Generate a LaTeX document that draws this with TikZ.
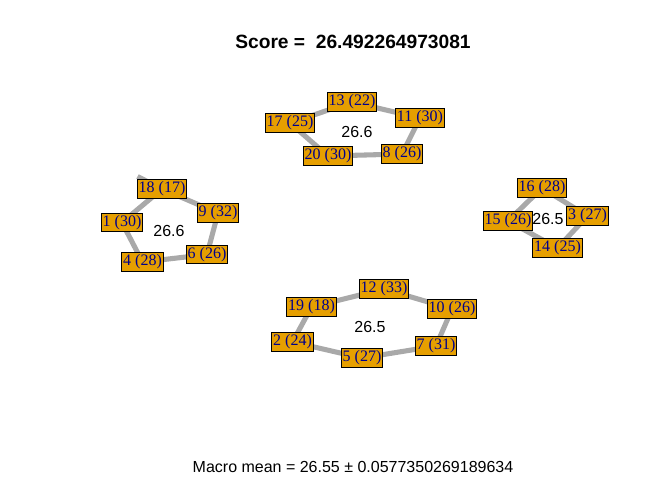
\documentclass[tikz,border=0pt]{standalone}
\usepackage{fontspec}
\setmainfont{Liberation Serif}
\newfontfamily\arialf{Liberation Sans}
\usetikzlibrary{backgrounds}
\definecolor{vfill}{HTML}{E69F00}
\definecolor{vtext}{HTML}{00008B}
\definecolor{egray}{HTML}{A9A9A9}
\tikzset{
  vbox/.style={draw=black, line width=0.75pt, fill=vfill, text=vtext, font=\fontsize{12}{12}\selectfont,
    inner xsep=1pt, inner ysep=0pt, minimum height=14.2pt, anchor=center},
  edg/.style={draw=egray, line width=3.8pt},
  clab/.style={font=\arialf\fontsize{12}{12}\selectfont, text=black, inner sep=0pt},
}
\begin{document}
\begin{tikzpicture}[x=0.75pt, y=-0.75pt]
\useasboundingbox (0,0) rectangle (672,480);
% top cluster
\node[vbox] (n13) at (352,102) {13 (22)};
\node[vbox] (n11) at (420,118) {11 (30)};
\node[vbox] (n17) at (290,123) {17 (25)};
\node[vbox] (n20) at (328,156) {20 (30)};
\node[vbox] (n8)  at (402,154) {8 (26)};
\node[clab] (l1) at (357,132) {26.6};
% left cluster
\node[vbox] (n18) at (162,189) {18 (17)};
\node[vbox] (n9)  at (218,213) {9 (32)};
\node[vbox] (n1)  at (122,222.5) {1 (30)};
\node[vbox] (n6)  at (207,254.5) {6 (26)};
\node[vbox] (n4)  at (142.5,262) {4 (28)};
\node[clab] (l2) at (169,231) {26.6};
\coordinate (s18) at (137.5,176.5);
% right cluster
\node[vbox] (n16) at (542,188) {16 (28)};
\node[vbox] (n15) at (508,221) {15 (26)};
\node[vbox] (n3)  at (587.5,216) {3 (27)};
\node[vbox] (n14) at (557.5,248) {14 (25)};
\node[clab] (l3) at (548,219) {26.5};
% bottom cluster
\node[vbox] (n12) at (384,289) {12 (33)};
\node[vbox] (n19) at (311.5,307) {19 (18)};
\node[vbox] (n10) at (452,309) {10 (26)};
\node[vbox] (n2)  at (292.5,342) {2 (24)};
\node[vbox] (n7)  at (436,346) {7 (31)};
\node[vbox] (n5)  at (362,358) {5 (27)};
\node[clab] (l4) at (370,327) {26.5};
% title and footer
\node[font=\arialf\bfseries\fontsize{14.4}{14.4}\selectfont, inner sep=0pt] (title) at (353,42) {Score =\ \ 26.492264973081};
\node[font=\arialf\fontsize{12}{12}\selectfont, inner sep=0pt] (foot) at (353,467) {Macro mean = 26.55 ± 0.0577350269189634};
\begin{pgfonlayer}{background}
\draw[edg] (n17.center) -- (n13.center) -- (n11.center) -- (n8.center) -- (n20.center) -- (n17.center);
\draw[edg] (n1.center) -- (n18.center) -- (n9.center) -- (n6.center) -- (n4.center) -- (n1.center);
\draw[edg] (n18.center) -- (s18);
\draw[edg] (n16.center) -- (n15.center) -- (n14.center) -- (n3.center) -- (n16.center);
\draw[edg] (n19.center) -- (n12.center) -- (n10.center) -- (n7.center) -- (n5.center) -- (n2.center) -- (n19.center);
\end{pgfonlayer}
\end{tikzpicture}
\end{document}
